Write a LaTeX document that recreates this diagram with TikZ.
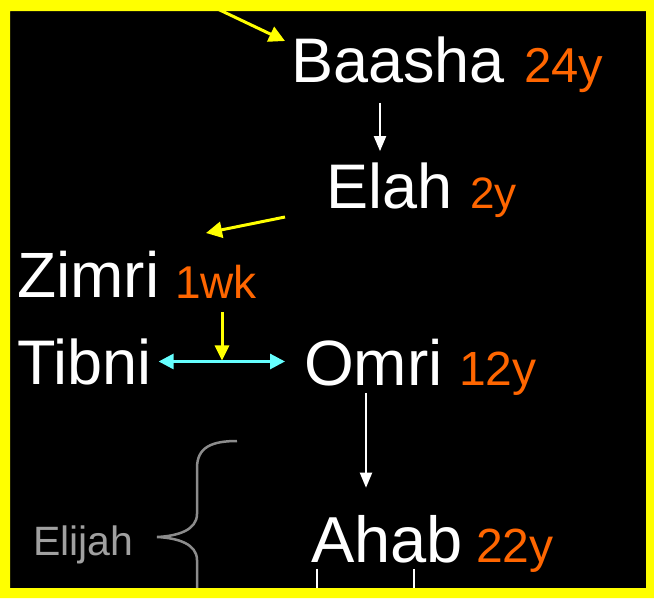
\documentclass[tikz,border=0pt]{standalone}
\usepackage{fontspec}
\setmainfont{Liberation Sans}
\usetikzlibrary{arrows.meta}
\definecolor{frameyellow}{HTML}{FFFF00}
\definecolor{agecol}{HTML}{FF6600}
\definecolor{tealarrow}{HTML}{66FFFF}
\definecolor{bracegray}{HTML}{8C8C8C}
\definecolor{prophetgray}{HTML}{A0A0A0}
\tikzset{
  king/.style={anchor=base west, inner sep=0pt, text=white, font=\fontsize{#1pt}{#1pt}\selectfont},
  age/.style={anchor=base west, inner sep=0pt, text=agecol, font=\fontsize{#1pt}{#1pt}\selectfont},
  prophet/.style={anchor=base west, inner sep=0pt, text=prophetgray, font=\fontsize{#1pt}{#1pt}\selectfont},
  yarrow/.style={draw=frameyellow, line width=3pt, -{Triangle[length=16pt,width=16pt]}},
  ydown/.style={draw=frameyellow, line width=3pt, -{Triangle[length=15pt,width=14pt]}},
  warrow/.style={draw=white, line width=2pt, -{Triangle[length=15pt,width=12pt]}},
  carrow/.style={draw=tealarrow, line width=3pt, {Triangle[length=15pt,width=15pt]}-{Triangle[length=15pt,width=15pt]}},
  wline/.style={draw=white, line width=2pt},
  bracestroke/.style={draw=bracegray, line width=2.5pt},
}
\begin{document}
\begin{tikzpicture}[x=1pt,y=-1pt]
\useasboundingbox (0,0) rectangle (654,598);
\fill[black] (0,0) rectangle (654,598);

% kings
\node[king=63] (baasha) at (291,82) {Baasha};
\node[age=49] (baashaY) at (524,82) {24y};
\node[king=63] (elah) at (326,208) {Elah};
\node[age=44] (elahY) at (470,208) {2y};
\node[king=64] (zimri) at (17,297) {Zimri};
\node[age=46] (zimriY) at (175,298) {1wk};
\node[king=63] (tibni) at (17,384) {Tibni};
\node[king=64] (omri) at (304,385) {Omri};
\node[age=48] (omriY) at (459,385) {12y};
\node[king=65] (ahab) at (311,562) {Ahab};
\node[age=48] (ahabY) at (476,562) {22y};
\node[prophet=41] (elijah) at (33,555) {Elijah};

% free ends
\coordinate (topsrc) at (205,3);
\coordinate (toptip) at (285,41);
\coordinate (elahsrc) at (285,217);
\coordinate (zimritip) at (206,233);
\coordinate (xba) at (380,0);
\coordinate (xom) at (366,0);
\coordinate (xzi) at (222,0);
\coordinate (lineA) at (317,596);
\coordinate (lineB) at (414,596);

% connectors
\draw[yarrow] (topsrc) -- (toptip);
\draw[warrow, shorten <=20pt, shorten >=11pt] (baasha.south -| xba) -- (elah.north -| xba);
\draw[yarrow] (elahsrc) -- (zimritip);
\draw[carrow, shorten <=7pt, shorten >=19pt] (tibni.east) -- (tibni.east -| omri.west);
\coordinate (mid) at (tibni.east -| xzi);
\draw[ydown, shorten <=14pt, shorten >=1pt] (zimriY.south -| xzi) -- (mid);
\draw[warrow, shorten <=7pt, shorten >=27pt] (omri.south -| xom) -- (ahab.north -| xom);
\draw[wline, shorten <=6pt] (ahab.south -| lineA) -- (lineA);
\draw[wline, shorten <=6pt] (ahab.south -| lineB) -- (lineB);

% brace for Elijah
\draw[bracestroke] (237,441) .. controls (212,441) and (197,447) .. (197,468)
  -- (197,514) .. controls (197,530) and (178,536) .. (157,537)
  .. controls (178,538) and (197,544) .. (197,560) -- (197,594);

% frame
\fill[frameyellow, even odd rule] (0,0) rectangle (654,598) (10,11) rectangle (646,588);
\end{tikzpicture}
\end{document}
